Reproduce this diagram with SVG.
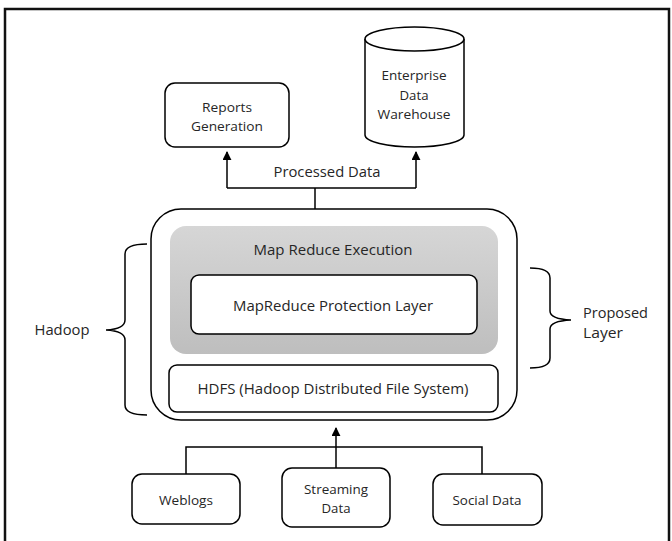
<svg xmlns="http://www.w3.org/2000/svg" width="672" height="541" viewBox="0 0 672 541">
<defs>
<marker id="arr" viewBox="0 0 10 10" refX="9" refY="5" markerWidth="9" markerHeight="9" markerUnits="userSpaceOnUse" orient="auto">
<path d="M0,0 L10,5 L0,10 Z" fill="#000"/>
</marker>
<linearGradient id="gray" x1="0" y1="0" x2="0" y2="1">
<stop offset="0" stop-color="#d6d6d6"/>
<stop offset="1" stop-color="#bebebe"/>
</linearGradient>
<style>
.box{fill:#fff;stroke:#000;stroke-width:1.5}
.ln{fill:none;stroke:#000;stroke-width:1.5}
.t{font-family:"Open Sans","Noto Sans",sans-serif;fill:#262626;text-anchor:middle}
.s{font-size:13px}
.b{font-size:14px}
</style>
</defs>
<rect width="672" height="541" fill="#fff"/>
<path id="frame" d="M5,541 V9 H669 V541" fill="none" stroke="#111" stroke-width="2.5"/>

<g id="connectors">
<path class="ln" d="M315,209 V188"/>
<path class="ln" d="M227,188 H416"/>
<path class="ln" d="M227,188 V152" marker-end="url(#arr)"/>
<path class="ln" d="M416,188 V152" marker-end="url(#arr)"/>
<path class="ln" d="M186,474 V447 H482 V474"/>
<path class="ln" d="M336,468 V428" marker-end="url(#arr)"/>
<text class="t b" x="327" y="177" textLength="107" lengthAdjust="spacingAndGlyphs">Processed Data</text>
</g>

<g id="reports">
<rect class="box" x="165" y="83" width="124" height="64" rx="10"/>
<text class="t s" x="227" y="112" textLength="50" lengthAdjust="spacingAndGlyphs">Reports</text>
<text class="t s" x="227" y="131" textLength="72" lengthAdjust="spacingAndGlyphs">Generation</text>
</g>

<g id="warehouse">
<path class="box" d="M365,39 V135 A49.5,12 0 0 0 464,135 V39"/>
<ellipse class="box" cx="414.5" cy="39" rx="49.5" ry="12"/>
<text class="t s" x="414" y="80" textLength="65" lengthAdjust="spacingAndGlyphs">Enterprise</text>
<text class="t s" x="414" y="100" textLength="29" lengthAdjust="spacingAndGlyphs">Data</text>
<text class="t s" x="414" y="119" textLength="73" lengthAdjust="spacingAndGlyphs">Warehouse</text>
</g>

<g id="hadoop">
<rect class="box" x="151" y="209" width="366" height="211" rx="30"/>
</g>

<g id="mapreduce-execution">
<rect x="170" y="226" width="328" height="128" rx="16" fill="url(#gray)"/>
<text class="t b" x="333" y="255" textLength="159" lengthAdjust="spacingAndGlyphs">Map Reduce Execution</text>
</g>

<g id="protection-layer">
<rect class="box" x="191" y="275" width="286" height="59" rx="8"/>
<text class="t b" x="333" y="311" textLength="200" lengthAdjust="spacingAndGlyphs">MapReduce Protection Layer</text>
</g>

<g id="hdfs">
<rect class="box" x="169" y="365" width="329" height="47" rx="8"/>
<text class="t b" x="333" y="394" textLength="271" lengthAdjust="spacingAndGlyphs">HDFS (Hadoop Distributed File System)</text>
</g>

<g id="hadoop-brace">
<path class="ln" d="M147,244 Q125,244 125,254 V320 Q125,329 106,330 Q125,331 125,340 V405 Q125,415 147,415"/>
<text class="t b" x="62" y="335" textLength="55" lengthAdjust="spacingAndGlyphs">Hadoop</text>
</g>

<g id="proposed-brace">
<path class="ln" d="M530,268 Q550,268 550,278 V311 Q550,319 571,320 Q550,321 550,329 V358 Q550,368 530,368"/>
<text class="t b" x="583" y="318" style="text-anchor:start" textLength="65" lengthAdjust="spacingAndGlyphs">Proposed</text>
<text class="t b" x="583" y="338" style="text-anchor:start" textLength="40" lengthAdjust="spacingAndGlyphs">Layer</text>
</g>

<g id="weblogs">
<rect class="box" x="132" y="474" width="108" height="50" rx="10"/>
<text class="t s" x="186" y="505" textLength="54" lengthAdjust="spacingAndGlyphs">Weblogs</text>
</g>

<g id="streaming">
<rect class="box" x="282" y="468" width="108" height="59" rx="10"/>
<text class="t s" x="336" y="494" textLength="64" lengthAdjust="spacingAndGlyphs">Streaming</text>
<text class="t s" x="336" y="513" textLength="29" lengthAdjust="spacingAndGlyphs">Data</text>
</g>

<g id="social">
<rect class="box" x="433" y="474" width="109" height="51" rx="10"/>
<text class="t s" x="487" y="505" textLength="69" lengthAdjust="spacingAndGlyphs">Social Data</text>
</g>
</svg>
